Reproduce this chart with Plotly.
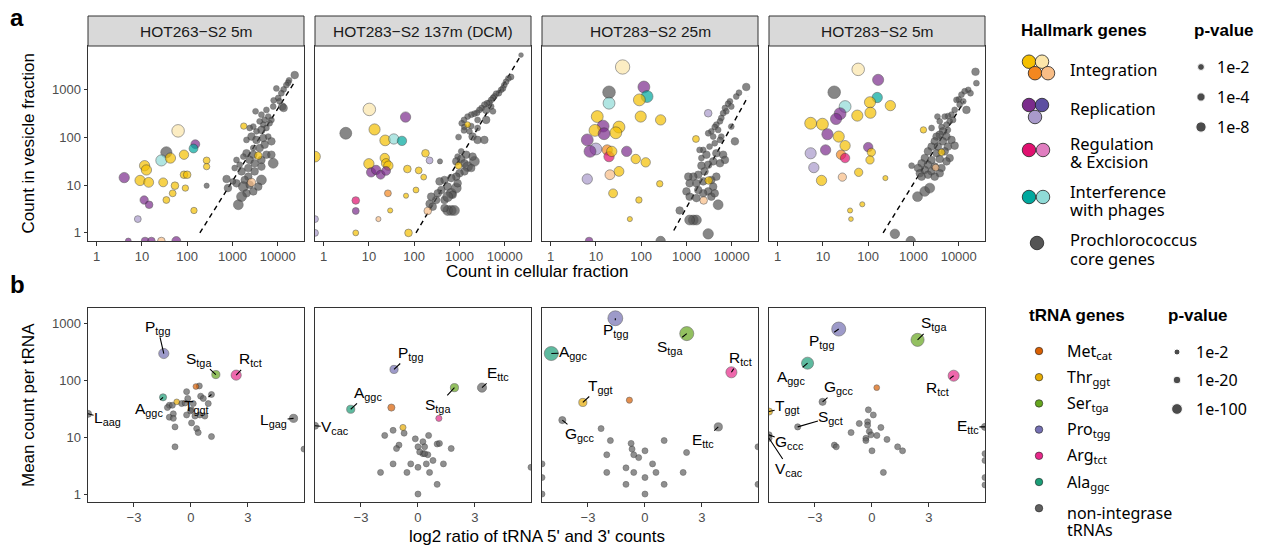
import numpy as np
import plotly.graph_objects as go

W, H = 1264, 550
ZERO = -np.inf      # log10 of a zero count (ggplot draws it on the panel edge)
NEG_INF = -np.inf   # infinite log2 ratio
POS_INF = np.inf

# ============================ DATA ============================
facet_titles = ["HOT263−S2 5m", "HOT283−S2 137m (DCM)", "HOT283−S2 25m", "HOT283−S2 5m"]
a_xticks = [1, 10, 100, 1000, 10000]
a_yticks = [1, 10, 100, 1000]
b_xticks = [-3, 0, 3]
b_xticklabels = ["−3", "0", "3"]
b_yticks = [1, 10, 100, 1000]

# ---- panel a : Prochlorococcus core genes (log10 cellular count, log10 vesicle count, -log10 p) ----
a1_core_x = [4.375,4.25,4.23,4.19,4.13,4.08,3.97,4.01,4.04,4.10, 3.91,3.90,4.13,3.86,3.51,3.64,3.75,3.79,3.71,3.82,
             3.68,3.60,3.75,3.64,3.53,3.46,3.38,3.42,3.31,3.53, 3.68,3.79,3.86,3.71,3.60,3.46,3.31,3.46,3.24,3.38,
             3.49,3.64,3.75,3.86,3.64,3.90,3.35,3.16,3.09,3.05, 3.20,3.35,3.49,3.27,3.09,3.24,3.31,3.46,3.64,3.57,
             3.38,3.20,3.13,2.87,2.90,3.01]
a1_core_y = [3.31,3.20,3.15,3.10,3.01,2.93,3.03,2.83,2.76,2.65, 2.78,2.65,2.62,2.37,2.55,2.48,2.58,2.44,2.37,2.30,
             2.27,2.34,2.20,2.16,2.13,2.23,2.20,2.02,1.95,1.95, 1.99,2.02,1.92,1.85,1.78,1.78,1.67,1.64,1.60,1.53,
             1.46,1.53,1.64,1.64,1.39,1.46,1.36,1.43,1.53,1.36, 1.29,1.18,1.29,1.11,1.04,0.97,0.83,0.87,1.11,0.97,
             1.01,0.76,0.59,1.13,0.94,1.08]
a1_core_p = [3,1,1,1,1,1,1,1,1,3, 1,1,3,1,1,1,1,1,1,1, 1,1,1,3,1,1,1,3,1,3, 3,1,3,3,3,1,3,3,1,3,
             3,3,3,3,3,7,3,1,1,1, 3,3,3,3,3,7,3,3,7,3, 3,7,7,3,3,1]

a2_core_x = [4.36,4.14,4.08,4.03,3.99,3.96,3.92,3.87,3.81,3.77, 3.74,3.70,3.66,3.61,3.55,3.49,3.44,3.39,3.33,3.26,
             3.18,3.10,3.05,3.11,3.26,3.40,3.59,3.70,3.74,3.59, 3.40,3.22,3.29,3.40,3.55,2.98,3.10,
             3.04,3.15,2.96,2.93,3.04,3.11,3.18,3.33,3.29,3.26, 3.11,3.00,2.93,2.82,2.67,2.74,2.56,2.60,2.52,2.485,
             2.375,2.34,2.41,2.67,2.82,2.93,2.96,2.85,2.74,2.82, 2.74,2.89,2.67]
a2_core_y = [3.73,3.27,3.24,3.17,3.10,3.03,3.00,2.93,2.92,2.86, 2.83,2.79,2.73,2.72,2.69,2.62,2.58,2.52,2.50,2.48,
             2.44,2.37,2.30,2.22,2.24,2.37,2.58,2.65,2.55,2.37, 2.20,2.13,2.02,1.95,1.95,2.01,2.15,
             1.71,1.64,1.60,1.50,1.55,1.46,1.39,1.50,1.60,1.36, 1.29,1.25,1.18,1.15,1.11,0.97,1.08,0.90,0.83,0.69,
             0.76,0.61,0.55,0.69,0.83,0.94,1.04,0.80,0.76,0.47, 0.47,0.47,0.52]
a2_core_p = [0.3,1,1,1,1,1,1,1,1,1, 1,1,1,1,1,1,1,1,1,1, 1,1,1,1,1,1,3,1,1,3, 1,1,3,3,3,1,1,
             1,3,1,3,3,3,7,7,3,3, 3,3,3,3,3,3,3,3,3,3, 3,3,3,3,7,7,3,3,7,7, 7,7,3]

a3_core_x = [4.32,4.16,4.10,3.96,3.92,3.99,3.85,3.88,3.81,3.77, 3.74,3.66,3.625,3.70,3.55,3.48,3.59,3.77,3.74,3.625,
             3.51,3.37,3.29,3.44,3.66,3.81,3.85,3.74,3.59,3.48, 3.33,3.33,3.40,3.26,3.15,3.04,3.07,3.22,3.37,3.55,
             3.66,3.59,3.48,3.37,3.26,3.00,3.07,3.22,3.55,3.625, 3.70,2.85,3.15,3.22,3.07,4.07,3.99]
a3_core_y = [3.06,2.94,2.86,2.76,2.71,2.65,2.62,2.55,2.51,2.41, 2.34,2.27,2.22,2.16,2.13,2.09,2.02,2.02,1.95,1.88,
             1.81,1.74,1.74,1.64,1.67,1.64,1.53,1.46,1.50,1.43, 1.57,1.41,1.29,1.22,1.18,1.18,1.04,1.04,1.08,1.11,
             1.18,0.97,0.87,0.83,0.90,0.87,0.76,0.73,0.76,0.83, 0.59,0.47,0.27,0.27,0.27,1.92,2.23]
a3_core_p = [3,1,1,1,1,1,1,1,1,1, 1,1,1,1,1,1,1,1,1,1, 1,1,1,3,3,3,3,3,3,3, 1,3,3,3,3,3,3,3,3,3,
             3,3,3,3,3,3,3,3,3,3, 7,3,7,7,7,3,1]

a4_core_x = [4.37,4.39,4.21,4.26,4.13,4.06,4.00,3.95,4.10,4.02, 4.17,3.91,3.84,3.76,3.69,3.875,3.80,3.73,3.62,3.53,
             3.58,3.40,3.76,3.65,3.58,3.51,3.73,3.84,3.65,3.47, 3.40,3.54,3.76,3.91,3.32,3.51,3.69,3.80,3.25,3.40,
             3.58,3.73,3.18,3.32,3.47,3.62,3.10,3.25,3.40,3.58, 3.14,3.32,3.47,2.96,3.09,3.25,3.36,3.18]
a4_core_y = [3.38,3.14,3.00,2.93,2.97,2.90,2.80,2.79,2.76,2.69, 2.58,2.58,2.48,2.45,2.44,2.37,2.34,2.27,2.22,2.44,
             2.34,2.20,2.16,2.13,2.06,2.02,2.02,1.95,1.92,1.92, 1.81,1.81,1.81,1.83,1.71,1.67,1.71,1.57,1.57,1.53,
             1.55,1.50,1.46,1.43,1.39,1.36,1.36,1.32,1.29,1.25, 1.25,1.22,1.18,1.41,0.76,0.87,0.94,1.18]
a4_core_p = [3,1,1,1,1,1,1,1,1,1, 3,1,1,1,1,1,1,1,1,1, 1,1,1,3,3,3,3,3,3,3, 3,3,3,3,3,3,3,3,3,3,
             3,3,3,3,3,3,3,3,3,3, 3,3,3,1,7,7,7,3]

# ---- panel a : hallmark genes (log10 cellular, log10 vesicle, category, -log10 p) ----
a1_hm_x = [1.80,2.18,2.14,1.54,1.43,1.63,1.93,2.43,2.43,1.06, 1.10,0.61,0.96,1.15,1.47,1.73,1.93,2.00,1.96,1.68,
           1.54,1.05,1.16,0.91,2.15,2.43,3.57,3.42,3.25,0.70, 1.07,1.21,1.43,1.76]
a1_hm_y = [2.14,1.86,1.77,1.69,1.52,1.57,1.64,1.52,1.39,1.41, 1.32,1.16,1.10,1.06,1.06,0.99,1.22,1.22,0.94,0.83,
           0.69,0.69,0.59,0.29,0.47,0.99,1.62,1.06,2.24,ZERO, ZERO,ZERO,ZERO,ZERO]
a1_hm_cat = ['int2','rep1','ph1','core','ph2','int1','int1','int1','int1','int1',
             'int1','rep1','int1','int1','int1','int1','int1','int1','int1','int1',
             'int1','rep1','rep1','rep3','int1','core','int1','int4','int1','rep1',
             'rep1','rep1','int4','rep1']
a1_hm_p = [14,5,5,10,10,8,6,2,1.5,8, 8,8,8,7,5,3,3,3,1.5,2, 2,4,3,2,1.5,0.5,3,4,1.5,1, 3,3,3,5]

a2_hm_x = [1.01,1.81,0.49,1.125,1.36,1.55,1.73,ZERO,2.25,2.34, 1.00,1.35,1.38,1.43,1.05,1.16,1.26,1.38,1.85,2.10,
           2.21,1.42,1.82,2.04,0.71,0.71,2.30,1.21,1.47,0.71, 1.875,ZERO,ZERO,2.98,3.18,2.57]
a2_hm_y = [2.59,2.43,2.09,2.17,1.94,1.97,1.93,1.60,1.67,1.52, 1.45,1.57,1.46,1.41,1.27,1.32,1.22,1.30,1.34,1.31,
           1.17,0.83,0.78,0.90,0.68,0.46,0.46,0.29,0.47,0.0, 0.0,0.29,0.0,1.41,2.27,1.50]
a2_hm_cat = ['int2','rep1','core','int1','int1','ph2','ph1','int1','int1','rep3',
             'int1','int1','int1','int1','rep1','rep1','rep1','rep1','int1','int1',
             'int1','int3','int1','int1','reg1','rep1','int4','int4','int1','int1',
             'int1','rep3','rep3','int1','int1','core']
a2_hm_p = [14,8,12,10,9,8,6,9,3,2, 8,6,6,6,6,6,5,5,3,2, 1,2,0.5,1,3,2,3,0.5,0.5,1, 3,2,2,2,1,0.5]

a3_hm_x = [1.59,2.06,2.13,1.29,1.29,1.96,1.99,2.43,1.03,1.16, 1.51,1.44,0.98,1.18,0.81,1.00,0.87,1.25,1.29,1.35,
           1.68,1.88,2.10,1.51,1.31,0.81,1.38,2.41,1.95,1.75, 3.21,3.48,3.49,3.38,3.48,2.43,0.85]
a3_hm_y = [3.48,3.06,2.86,2.95,2.72,2.79,2.44,2.37,2.44,2.24, 2.22,2.10,2.15,2.08,1.95,1.76,1.71,1.74,1.60,1.71,
           1.71,1.55,1.48,1.29,1.22,1.13,0.83,1.03,0.69,0.29, 1.97,2.51,1.10,0.68,-0.02,ZERO,ZERO]
a3_hm_cat = ['int2','rep1','ph1','core','ph2','int1','int1','int1','int1','rep1',
             'int1','int1','int1','rep1','rep1','rep3','rep1','int3','reg1','int1',
             'rep1','int1','int1','int1','int4','rep3','int1','int1','int1','int1',
             'int1','rep3','int1','int4','core','core','rep1']
a3_hm_p = [20,12,12,14,12,12,10,8,12,12, 12,12,12,12,12,12,12,8,8,8, 8,6,6,7,7,8,5,1.5,1.5,0.5, 2,3,3,3,8,6,3]

a4_hm_x = [1.78,2.22,1.25,2.20,2.04,2.49,1.49,1.38,1.29,1.76, 2.05,0.73,0.99,1.10,1.35,1.49,1.06,0.73,1.40,1.49,
           2.00,2.07,2.04,0.80,0.97,1.43,1.79,2.38,1.87,1.60, 1.62,3.22,3.62,3.49,2.59,2.94]
a4_hm_y = [3.43,3.21,2.95,2.84,2.74,2.67,2.65,2.50,2.39,2.46, 2.52,2.30,2.28,2.07,2.02,1.83,1.74,1.67,1.64,1.57,
           1.80,1.69,1.53,1.37,1.10,1.17,1.27,1.15,0.60,0.47, 0.29,2.16,1.69,1.37,-0.02,ZERO]
a4_hm_cat = ['int2','rep1','core','ph1','int1','int1','ph2','rep1','rep1','int1',
             'int1','int1','int1','rep1','int1','int1','rep1','rep3','int3','reg1',
             'rep1','int1','int1','rep3','int1','int4','int1','int1','int1','int1',
             'int1','int1','int1','int4','core','core']
a4_hm_p = [14,10,14,8,10,8,12,12,10,10, 10,12,12,10,10,8,8,10,6,6, 6,4,4,8,8,4,4,0.5,0.5,0.5, 0.3,1.5,2,2,6,6]

# ---- panel a : dashed fit line end points (log10 cellular, log10 vesicle) ----
fit_x0 = [2.28, 2.04, 2.72, 2.33]
fit_y0 = [0.00, 0.00, 0.05, 0.00]
fit_x1 = [4.375, 4.36, 4.36, 4.12]
fit_y1 = [3.17, 3.73, 2.86, 2.76]

# ---- panel b : tRNAs (log2 5'/3' ratio, log10 mean count, gene, -log10 p, label) ----
b1_x = [-1.43,1.31,2.38,-1.47,-0.75,0.26, NEG_INF,5.40,POS_INF,1.08,
        -1.14,-1.24,-0.98,-0.93,-1.14,-0.93,-0.84,-0.84,-0.23,-0.17,
        0.12,0.44,0.51,0.65,0.91,1.08,0.30,0.38,0.03,-0.23,
        0.03,0.21,0.47,0.73,-0.02,-0.49,-0.31]
b1_y = [2.47,2.10,2.09,1.70,1.62,1.89, 1.41,1.33,0.79,1.75,
        1.56,1.52,1.56,1.41,1.35,1.33,1.18,0.83,1.80,1.68,
        1.59,1.90,1.72,1.68,1.59,1.01,1.15,1.08,1.25,1.39,
        1.48,1.37,1.39,1.37,1.46,1.59,1.60]
b1_cat = ['Pro','Ser','Arg','Ala','Thr','Met','non','non','non','non'] + ['non'] * 27
b1_p = [80,28,80,12,1,1,12,28,2,2] + [2] * 27
b1_name = ['P<sub>tgg</sub>','S<sub>tga</sub>','R<sub>tct</sub>','A<sub>ggc</sub>','','',
           'L<sub>aag</sub>','L<sub>gag</sub>','','T<sub>ggt</sub>'] + [''] * 27

b2_x = [-1.26,1.92,1.10,-3.54,-1.40,-0.79, 3.37,NEG_INF,
        -0.73,-1.75,-1.31,-1.0,-1.13,-0.14,0.0,0.26,0.35,0.56,
        0.26,0.52,0.09,1.01,1.13,1.75,-0.38,-1.31,-1.97,-0.58,
        0.0,0.44,0.61,0.79,1.34,1.01,0.0,POS_INF,0.35]
b2_y = [2.19,1.87,1.33,1.49,1.52,1.17, 1.87,1.20,
        1.07,1.03,1.12,0.86,0.80,0.97,0.83,0.92,0.83,1.03,
        0.71,0.69,0.74,0.88,0.89,0.80,0.53,0.53,0.38,0.38,
        0.47,0.53,0.38,0.59,0.53,0.17,0.0,0.47,0.71]
b2_cat = ['Pro','Ser','Arg','Ala','Met','Thr','non','non'] + ['non'] * 29
b2_p = [28,28,3,28,12,3,50,12] + [2] * 29
b2_name = ['P<sub>tgg</sub>','S<sub>tga</sub>','','A<sub>ggc</sub>','','',
           'E<sub>ttc</sub>','V<sub>cac</sub>'] + [''] * 29

b3_x = [-1.56,2.20,-4.93,4.55,-3.27,-0.82, -4.35,3.86,
        -2.31,-1.82,-2.01,-2.01,-0.73,-0.68,-0.59,-0.33,0.0,-1.0,
        -0.59,0.0,-1.0,0.0,0.40,0.58,1.01,1.01,2.19,2.01,
        NEG_INF,NEG_INF,NEG_INF,POS_INF,POS_INF]
b3_y = [3.09,2.82,2.47,2.14,1.61,1.65, 1.30,1.18,
        1.15,0.94,0.69,0.38,0.89,0.79,0.69,0.64,0.76,0.46,
        0.38,0.29,0.17,0.0,0.53,0.38,0.94,0.17,0.73,0.38,
        0.53,0.29,0.0,0.83,0.17]
b3_cat = ['Pro','Ser','Ala','Arg','Thr','Met','non','non'] + ['non'] * 25
b3_p = [300,250,250,110,28,3,12,28] + [2] * 25
b3_name = ['P<sub>tgg</sub>','S<sub>tga</sub>','A<sub>ggc</sub>','R<sub>tct</sub>','T<sub>ggt</sub>','',
           'G<sub>gcc</sub>','E<sub>ttc</sub>'] + [''] * 25

b4_x = [-1.75,2.40,-3.39,4.30,0.25, -2.6,NEG_INF,-3.91,NEG_INF,NEG_INF,POS_INF,
        -1.98,-1.88,-1.1,-0.67,-0.19,0.07,-0.23,-0.23,-0.14,-0.05,
        -0.32,-0.32,0.26,0.47,0.79,1.35,1.61,0.0,0.6,POS_INF,
        POS_INF,POS_INF,POS_INF]
b4_y = [2.90,2.71,2.30,2.08,1.87, 1.62,1.45,1.18,1.04,0.98,1.18,
        0.86,0.83,1.08,1.24,1.48,1.39,1.27,1.21,1.10,1.04,
        0.98,0.94,1.03,1.17,0.96,0.83,0.76,0.76,0.38,0.71,
        0.59,0.29,0.16]
b4_cat = ['Pro','Ser','Ala','Arg','Met','non','Thr','non','non','non','non'] + ['non'] * 23
b4_p = [250,200,150,110,1,12,12,3,3,3,12] + [2] * 23
b4_name = ['P<sub>tgg</sub>','S<sub>tga</sub>','A<sub>ggc</sub>','R<sub>tct</sub>','',
           'G<sub>gcc</sub>','T<sub>ggt</sub>','S<sub>gct</sub>','G<sub>ccc</sub>','V<sub>cac</sub>',
           'E<sub>ttc</sub>'] + [''] * 23

# legend contents
hallmark_legend = [("Integration", ['int1', 'int2', 'int3', 'int4']),
                   ("Replication", ['rep1', 'rep2', 'rep3']),
                   ("Regulation\n& Excision", ['reg1', 'reg2']),
                   ("Interference\nwith phages", ['ph1', 'ph2']),
                   ("Prochlorococcus\ncore genes", ['core'])]
a_pval_legend_p = [2, 4, 8]
a_pval_legend_lab = ["1e-2", "1e-4", "1e-8"]
trna_legend_keys = ['Met', 'Thr', 'Ser', 'Pro', 'Arg', 'Ala', 'non']
trna_legend_lab = ["Met<sub>cat</sub>", "Thr<sub>ggt</sub>", "Ser<sub>tga</sub>", "Pro<sub>tgg</sub>",
                   "Arg<sub>tct</sub>", "Ala<sub>ggc</sub>", "non-integrase\ntRNAs"]
b_pval_legend_p = [2, 20, 100]
b_pval_legend_lab = ["1e-2", "1e-20", "1e-100"]

# ============================ STYLE / LAYOUT ============================
HALL_COL = {'int1': '#F5C000', 'int2': '#FCE6AA', 'int3': '#F4871F', 'int4': '#F8BD86',
            'rep1': '#7B2C8C', 'rep2': '#5D4FA1', 'rep3': '#A99ACB',
            'reg1': '#E0106F', 'reg2': '#E07EC0',
            'ph1': '#00A89E', 'ph2': '#90DBD7', 'core': '#555555'}
TRNA_COL = {'Met': '#D95F02', 'Thr': '#E6AB02', 'Ser': '#66A61E', 'Pro': '#7570B3',
            'Arg': '#E7298A', 'Ala': '#1B9E77', 'non': '#606060'}

FONT = "Liberation Sans, Arial, sans-serif"
LFONT = "Noto Sans, Open Sans, sans-serif"
A_XR, A_YR = [-0.19, 4.58], [-0.17, 3.92]
B_XR, B_YR = [-5.42, 5.95], [-0.14, 3.27]
LEFT = [88, 315, 542, 769]
PW = 216
A_TOP, A_BOT = 46, 241
B_TOP, B_BOT = 308, 502
STRIP_TOP = 16


def size_a(v):
    return 3.4 + 2.45 * np.sqrt(np.asarray(v, float))


def size_b(v):
    return 5.2 + 0.56 * np.sqrt(np.asarray(v, float))


def xdom(i):
    return [LEFT[i] / W, (LEFT[i] + PW) / W]


def ydom(top, bot):
    return [1 - bot / H, 1 - top / H]


def edge(v, lo, hi):
    v = np.asarray(v, float)
    return np.clip(v, lo, hi)


fig = go.Figure()
annotations = []
shapes = []

tickfont = dict(family=FONT, size=13, color='#4D4D4D')
axis_common = dict(showline=True, mirror=True, linecolor='#333333', linewidth=1,
                   showgrid=False, zeroline=False, ticks='outside', ticklen=3.5,
                   tickwidth=1, tickcolor='#333333', tickfont=tickfont, fixedrange=True)
layout = dict(width=W, height=H, margin=dict(l=0, r=0, t=0, b=0, pad=0),
              paper_bgcolor='white', plot_bgcolor='rgba(0,0,0,0)', showlegend=False)

a_core = [(a1_core_x, a1_core_y, a1_core_p), (a2_core_x, a2_core_y, a2_core_p),
          (a3_core_x, a3_core_y, a3_core_p), (a4_core_x, a4_core_y, a4_core_p)]
a_hm = [(a1_hm_x, a1_hm_y, a1_hm_cat, a1_hm_p), (a2_hm_x, a2_hm_y, a2_hm_cat, a2_hm_p),
        (a3_hm_x, a3_hm_y, a3_hm_cat, a3_hm_p), (a4_hm_x, a4_hm_y, a4_hm_cat, a4_hm_p)]
b_sets = [(b1_x, b1_y, b1_cat, b1_p, b1_name), (b2_x, b2_y, b2_cat, b2_p, b2_name),
          (b3_x, b3_y, b3_cat, b3_p, b3_name), (b4_x, b4_y, b4_cat, b4_p, b4_name)]

# label placement (text centre; x = log2 ratio, y = log10 count) -- layout only
b_label_pos = [
    {'P<sub>tgg</sub>': (-1.75, 2.93), 'S<sub>tga</sub>': (0.42, 2.37), 'R<sub>tct</sub>': (3.13, 2.36),
     'A<sub>ggc</sub>': (-2.20, 1.48), 'T<sub>ggt</sub>': (0.30, 1.53), 'L<sub>aag</sub>': (-4.39, 1.32),
     'L<sub>gag</sub>': (4.35, 1.29)},
    {'P<sub>tgg</sub>': (-0.38, 2.47), 'A<sub>ggc</sub>': (-2.65, 1.77), 'S<sub>tga</sub>': (1.05, 1.56),
     'E<sub>ttc</sub>': (4.19, 2.12), 'V<sub>cac</sub>': (-4.36, 1.17)},
    {'P<sub>tgg</sub>': (-1.57, 2.88), 'S<sub>tga</sub>': (1.31, 2.58), 'A<sub>ggc</sub>': (-3.79, 2.48),
     'R<sub>tct</sub>': (5.02, 2.38), 'T<sub>ggt</sub>': (-2.36, 1.89), 'G<sub>gcc</sub>': (-3.44, 1.05),
     'E<sub>ttc</sub>': (3.07, 0.94)},
    {'P<sub>tgg</sub>': (-2.67, 2.68), 'S<sub>tga</sub>': (3.26, 2.99), 'A<sub>ggc</sub>': (-4.26, 2.05),
     'R<sub>tct</sub>': (3.47, 1.86), 'G<sub>gcc</sub>': (-1.72, 1.87), 'T<sub>ggt</sub>': (-4.44, 1.53),
     'S<sub>gct</sub>': (-2.16, 1.35), 'G<sub>ccc</sub>': (-4.33, 0.91), 'V<sub>cac</sub>': (-4.35, 0.44),
     'E<sub>ttc</sub>': (5.05, 1.18)},
]

for i in range(4):
    na, nb = i + 1, i + 5
    xa, ya, xb, yb = f'x{na}', f'y{na}', f'x{nb}', f'y{nb}'

    # ----- axes -----
    layout[f'xaxis{na}'] = dict(axis_common, type='log', range=A_XR, domain=xdom(i), anchor=ya,
                                tickvals=a_xticks, ticktext=[str(t) for t in a_xticks])
    ya_cfg = dict(axis_common, type='log', range=A_YR, domain=ydom(A_TOP, A_BOT), anchor=xa,
                  tickvals=a_yticks, ticktext=[str(t) for t in a_yticks])
    if i > 0:
        ya_cfg.update(showticklabels=False, ticks='')
    layout[f'yaxis{na}'] = ya_cfg
    layout[f'xaxis{nb}'] = dict(axis_common, type='linear', range=B_XR, domain=xdom(i), anchor=yb,
                                tickvals=b_xticks, ticktext=b_xticklabels)
    yb_cfg = dict(axis_common, type='log', range=B_YR, domain=ydom(B_TOP, B_BOT), anchor=xb,
                  tickvals=b_yticks, ticktext=[str(t) for t in b_yticks])
    if i > 0:
        yb_cfg.update(showticklabels=False, ticks='')
    layout[f'yaxis{nb}'] = yb_cfg

    # ----- strip -----
    shapes.append(dict(type='rect', xref='paper', yref='paper',
                       x0=LEFT[i] / W, x1=(LEFT[i] + PW) / W,
                       y0=1 - A_TOP / H, y1=1 - STRIP_TOP / H,
                       fillcolor='#D9D9D9', line=dict(color='#333333', width=1)))
    annotations.append(dict(xref='paper', yref='paper', x=(LEFT[i] + PW / 2) / W,
                            y=1 - (STRIP_TOP + A_TOP) / 2 / H, text=facet_titles[i], showarrow=False,
                            font=dict(family=FONT, size=15.5, color='#1A1A1A'),
                            xanchor='center', yanchor='middle'))

    # ----- panel a -----
    fig.add_trace(go.Scatter(x=10 ** np.array([fit_x0[i], fit_x1[i]]),
                             y=10 ** np.array([fit_y0[i], fit_y1[i]]),
                             mode='lines', line=dict(color='black', width=1.4, dash='5px,4px'),
                             xaxis=xa, yaxis=ya, hoverinfo='skip'))
    cx, cy, cp = a_core[i]
    n = min(len(cx), len(cy), len(cp))
    fig.add_trace(go.Scatter(x=10 ** edge(cx[:n], *A_XR), y=10 ** edge(cy[:n], *A_YR),
                             mode='markers', xaxis=xa, yaxis=ya, hoverinfo='skip', cliponaxis=True,
                             marker=dict(size=size_a(cp[:n]), color=HALL_COL['core'],
                                         line=dict(color='#2A2A2A', width=0.5))))
    hx, hy, hc, hp = a_hm[i]
    n = min(len(hx), len(hy), len(hc), len(hp))
    fig.add_trace(go.Scatter(x=10 ** edge(hx[:n], *A_XR), y=10 ** edge(hy[:n], *A_YR),
                             mode='markers', xaxis=xa, yaxis=ya, hoverinfo='skip', cliponaxis=True,
                             marker=dict(size=size_a(hp[:n]), color=[HALL_COL[c] for c in hc[:n]],
                                         line=dict(color='#2A2A2A', width=0.6))))

    # ----- panel b -----
    bx, by, bc, bp, bn = b_sets[i]
    n = min(len(bx), len(by), len(bc), len(bp), len(bn))
    px = edge(bx[:n], *B_XR)
    py = edge(by[:n], *B_YR)
    order = [k for k in range(n) if bc[k] == 'non'] + [k for k in range(n) if bc[k] != 'non']
    fig.add_trace(go.Scatter(x=px[order], y=10 ** py[order], mode='markers', xaxis=xb, yaxis=yb,
                             hoverinfo='skip', cliponaxis=True,
                             marker=dict(size=size_b(np.asarray(bp[:n], float)[order]),
                                         color=[TRNA_COL[bc[k]] for k in order],
                                         line=dict(color='#2A2A2A', width=0.6))))
    for k in range(n):
        if bn[k] and bn[k] in b_label_pos[i]:
            lx, ly = b_label_pos[i][bn[k]]
            annotations.append(dict(xref=xb, yref=yb, x=px[k], y=py[k], axref=xb, ayref=yb,
                                    ax=lx, ay=ly, text=bn[k], showarrow=True, arrowhead=0,
                                    arrowwidth=1.1, arrowcolor='black', standoff=0, borderpad=0,
                                    font=dict(family=FONT, size=15.5, color='black')))

# ----- axis titles and panel letters -----
mid_x = (LEFT[0] + LEFT[3] + PW) / 2 / W


def ptext(x, y, s, size, angle=0, bold=False):
    annotations.append(dict(xref='paper', yref='paper', x=x / W, y=1 - y / H,
                            text=(f"<b>{s}</b>" if bold else s), textangle=angle, showarrow=False,
                            xanchor='center', yanchor='middle',
                            font=dict(family=FONT, size=size, color='black')))


ptext(mid_x * W, 271, "Count in cellular fraction", 17)
ptext(mid_x * W, 536, "log2 ratio of tRNA 5' and 3' counts", 17)
ptext(28, (A_TOP + A_BOT) / 2, "Count in vesicle fraction", 17, angle=-90)
ptext(28, (B_TOP + B_BOT) / 2, "Mean count per tRNA", 17, angle=-90)
ptext(17, 18, "a", 24, bold=True)
ptext(17, 284, "b", 24, bold=True)

# ----- legends (drawn on a hidden pixel-coordinate axis) -----
LX0 = 990
layout['xaxis9'] = dict(domain=[LX0 / W, 1], range=[LX0, W], visible=False, anchor='y9', fixedrange=True)
layout['yaxis9'] = dict(domain=[0, 1], range=[H, 0], visible=False, anchor='x9', fixedrange=True)


def ltext(x, y, s, size=16, bold=False, fam=LFONT):
    annotations.append(dict(xref='x9', yref='y9', x=x, y=y, text=(f"<b>{s}</b>" if bold else s),
                            showarrow=False, xanchor='left', yanchor='middle',
                            font=dict(family=fam, size=size, color='black')))


cluster_off = {4: [(0, 0), (13, 0), (6, 11.5), (19, 11.5)], 3: [(0, 0), (13, 0), (6, 12)],
               2: [(0, 0), (14, 0)], 1: [(8, 0)]}
row_y = [61.7, 105, 150, 197, 243]
text_y = [[69], [108], [143, 161], [191, 209], [239, 258]]
lx_, ly_, lc_ = [], [], []
for j, (lab, keys) in enumerate(hallmark_legend):
    for (dx, dy), key in zip(cluster_off[len(keys)], keys):
        lx_.append(1029 + dx)
        ly_.append(row_y[j] + dy)
        lc_.append(HALL_COL[key])
    for line, ty in zip(lab.split("\n"), text_y[j]):
        ltext(1068, ty, line, size=16.5)
fig.add_trace(go.Scatter(x=lx_, y=ly_, mode='markers', xaxis='x9', yaxis='y9', hoverinfo='skip',
                         cliponaxis=False, marker=dict(size=13.5, color=lc_, line=dict(color='#222', width=0.8))))
ltext(1019, 30, "Hallmark genes", size=17, bold=True, fam=FONT)
ltext(1192, 30, "p-value", size=17, bold=True, fam=FONT)
pv_y = [67, 97, 127]
fig.add_trace(go.Scatter(x=[1201] * len(a_pval_legend_p), y=pv_y, mode='markers', xaxis='x9', yaxis='y9',
                         hoverinfo='skip', cliponaxis=False,
                         marker=dict(size=size_a(a_pval_legend_p), color='black')))
for lab, y in zip(a_pval_legend_lab, pv_y):
    ltext(1215, y, lab, size=16)

# tRNA legend
ltext(1027, 315, "tRNA genes", size=17, bold=True, fam=FONT)
ltext(1166, 315, "p-value", size=17, bold=True, fam=FONT)
t_y = [351 + 26.2 * k for k in range(len(trna_legend_keys))]
fig.add_trace(go.Scatter(x=[1039] * len(t_y), y=t_y, mode='markers', xaxis='x9', yaxis='y9', hoverinfo='skip',
                         cliponaxis=False,
                         marker=dict(size=7.5, color=[TRNA_COL[k] for k in trna_legend_keys],
                                     line=dict(color='#222', width=0.6))))
for lab, y in zip(trna_legend_lab, t_y):
    parts = lab.split("\n")
    if len(parts) == 1:
        ltext(1065, y, parts[0], size=16)
    else:
        ltext(1065, y + 5, parts[0], size=16)
        ltext(1065, y + 22, parts[1], size=16)
bp_y = [352, 380, 409]
fig.add_trace(go.Scatter(x=[1177] * len(bp_y), y=bp_y, mode='markers', xaxis='x9', yaxis='y9', hoverinfo='skip',
                         cliponaxis=False, marker=dict(size=size_b(b_pval_legend_p), color='black')))
for lab, y in zip(b_pval_legend_lab, bp_y):
    ltext(1194, y, lab, size=16)

layout['annotations'] = annotations
layout['shapes'] = shapes
fig.update_layout(**layout)
fig.write_html("out.html", config={'displayModeBar': False},
               post_script="document.body.style.margin='0px';document.body.style.padding='0px';"
                           "document.body.style.overflow='hidden';")
